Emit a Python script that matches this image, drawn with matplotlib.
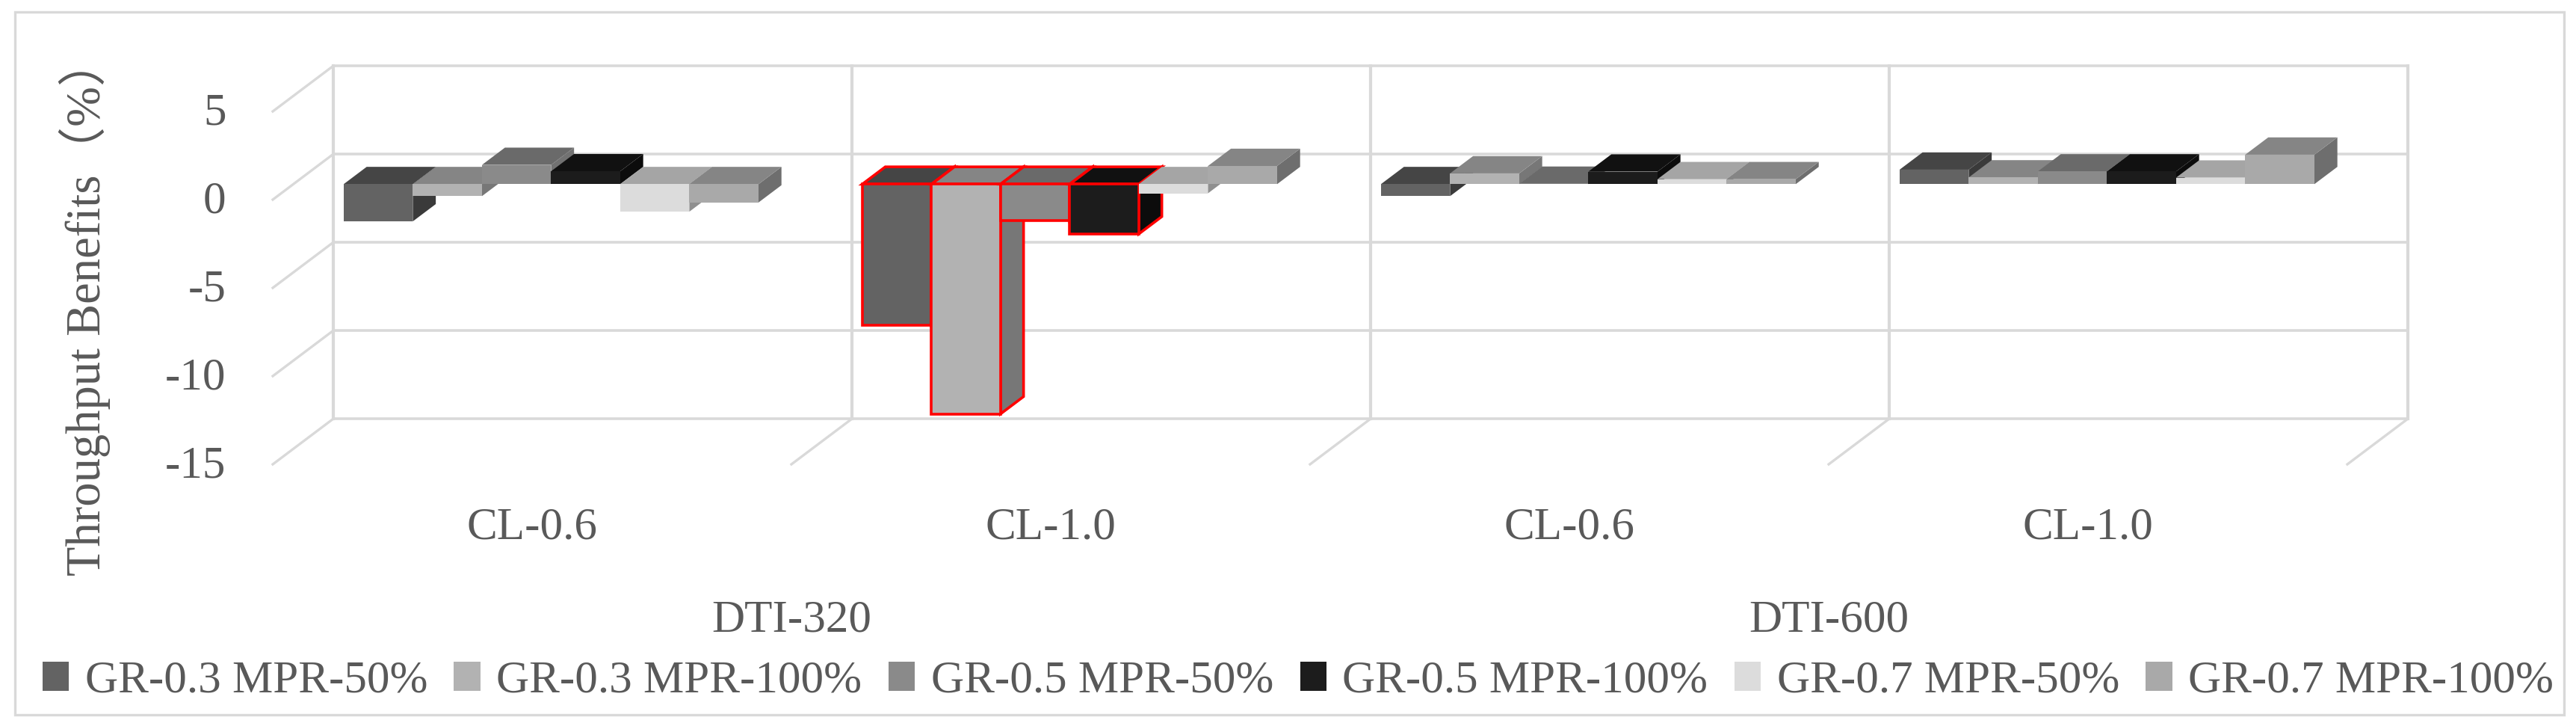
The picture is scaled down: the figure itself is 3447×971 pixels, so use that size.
import matplotlib
matplotlib.use('Agg')
import matplotlib.pyplot as plt
from matplotlib.patches import Polygon, Patch, Rectangle
from matplotlib.transforms import ScaledTranslation

plt.rcParams['font.family'] = ['Liberation Serif', 'Noto Sans CJK SC', 'DejaVu Sans']

# --- data ---
categories = ['CL-0.6', 'CL-1.0', 'CL-0.6', 'CL-1.0']
groups = ['DTI-320', 'DTI-600']
series_names = ['GR-0.3 MPR-50%', 'GR-0.3 MPR-100%', 'GR-0.5 MPR-50%',
                'GR-0.5 MPR-100%', 'GR-0.7 MPR-50%', 'GR-0.7 MPR-100%']

gr03_mpr50 = [-2.11, -7.98, -0.68, 0.82]
gr03_mpr100 = [-0.68, -13.02, 0.61, 0.38]
gr05_mpr50 = [1.09, -2.08, 0.02, 0.72]
gr05_mpr100 = [0.73, -2.82, 0.71, 0.72]
gr07_mpr50 = [-1.56, -0.52, 0.28, 0.37]
gr07_mpr100 = [-1.04, 1.03, 0.28, 1.67]
series = [gr03_mpr50, gr03_mpr100, gr05_mpr50, gr05_mpr100, gr07_mpr50, gr07_mpr100]

yticks = [5, 0, -5, -10, -15]

front_colors = ['#636363', '#B2B2B2', '#8A8A8A', '#1C1C1C', '#DCDCDC', '#A9A9A9']
top_colors = ['#454545', '#858585', '#6A6A6A', '#111111', '#A5A5A5', '#858585']
side_colors = ['#3A3A3A', '#777777', '#727272', '#0C0C0C', '#8F8F8F', '#6E6E6E']

# bars with the red outline: (category index, series index)
red_bars = [(1, 0), (1, 1), (1, 2), (1, 3)]

# --- oblique projection used for the fake 3D box ---
DEPTH_X = 0.1167   # full floor depth, in category units
DEPTH_Y = 2.58     # full floor depth, in value units
BAR_D0 = 0.34      # front of bars, as fraction of the depth
BAR_D1 = 0.72      # back of bars
BAR_W = 0.1333
GRID = '#D9D9D9'
TEXT = '#595959'
FS = 44


def proj(x, y, d):
    return (x + DEPTH_X * d, y + DEPTH_Y * d)


W, H = 3448, 971
fig = plt.figure(figsize=(W / 100, H / 100), dpi=100)
ax = fig.add_axes([365 / W, 1 - 621 / H, 2776 / W, 472 / H])
ax.set_xlim(0, 4)
ax.set_ylim(-15, 5)
for s in ax.spines.values():
    s.set_visible(False)

# outer frame
fig.add_artist(Rectangle((20 / W, 1 - 956 / H), 3411 / W, 940 / H, transform=fig.transFigure,
                         fill=False, edgecolor=GRID, linewidth=2.4))

# walls and floor
for v in yticks:
    x0, y0 = proj(0, v, 0)
    x1, y1 = proj(0, v, 1)
    x2, y2 = proj(4, v, 1)
    ax.plot([x0, x1], [y0, y1], color=GRID, lw=2.4, clip_on=False, zorder=1)
    ax.plot([x1, x2], [y1, y2], color=GRID, lw=2.6, clip_on=False, zorder=1)
for i in range(5):
    xb, yb = proj(i, -15, 1)
    xt, yt = proj(i, 5, 1)
    ax.plot([xb, xt], [yb, yt], color=GRID, lw=3, clip_on=False, zorder=1)
    if i > 0:
        xf, yf = proj(i, -15, 0)
        ax.plot([xf, xb], [yf, yb], color=GRID, lw=2.4, clip_on=False, zorder=1)

# bars, left to right so later ones cover earlier ones
z = 2
for c in range(len(categories)):
    for k, vals in enumerate(series):
        v = vals[c]
        left = c + 0.097 + k * BAR_W
        right = left + BAR_W
        up = max(v, 0)
        lo = min(v, 0)
        if (c, k) in red_bars:
            style = dict(edgecolor='red', linewidth=2.6, joinstyle='miter')
        else:
            style = dict(edgecolor='none', linewidth=0)
        side = [proj(right, lo, BAR_D0), proj(right, lo, BAR_D1),
                proj(right, up, BAR_D1), proj(right, up, BAR_D0)]
        top = [proj(left, up, BAR_D0), proj(right, up, BAR_D0),
               proj(right, up, BAR_D1), proj(left, up, BAR_D1)]
        front = [proj(left, lo, BAR_D0), proj(right, lo, BAR_D0),
                 proj(right, up, BAR_D0), proj(left, up, BAR_D0)]
        ax.add_patch(Polygon(side, facecolor=side_colors[k], clip_on=False, zorder=z, **style))
        ax.add_patch(Polygon(top, facecolor=top_colors[k], clip_on=False, zorder=z, **style))
        ax.add_patch(Polygon(front, facecolor=front_colors[k], clip_on=False, zorder=z, **style))
        z += 1

# axes text
ax.set_yticks(yticks)
ax.set_yticklabels([str(t) for t in yticks], fontsize=FS, color=TEXT)
ax.set_xticks([0.5, 1.5, 2.5, 3.5])
ax.set_xticklabels(categories, fontsize=FS, color=TEXT)
ax.tick_params(axis='y', length=0, pad=45)
ax.tick_params(axis='x', length=0, pad=41)
# tick labels sit a little above their level in the reference
up_shift = ScaledTranslation(0, 4 / 100, fig.dpi_scale_trans)
for lab in ax.get_yticklabels():
    lab.set_transform(lab.get_transform() + up_shift)
ax.set_ylabel('Throughput Benefits（%）', fontsize=46.5, color=TEXT)
ax.yaxis.set_label_coords(-0.078, 0.447)

ax.text(1.0, -23.85, groups[0], fontsize=FS, color=TEXT, ha='center', va='center')
ax.text(3.0, -23.85, groups[1], fontsize=FS, color=TEXT, ha='center', va='center')

handles = [Patch(facecolor=col, edgecolor='none') for col in front_colors]
fig.legend(handles, series_names, ncol=6, frameon=False, fontsize=FS, labelcolor=TEXT,
           loc='center', bbox_to_anchor=(1737 / W, 1 - 911 / H),
           handlelength=0.58, handleheight=0.6, handletextpad=0.35,
           columnspacing=0.58, borderpad=0, borderaxespad=0)

fig.savefig('out.png', dpi=100)
